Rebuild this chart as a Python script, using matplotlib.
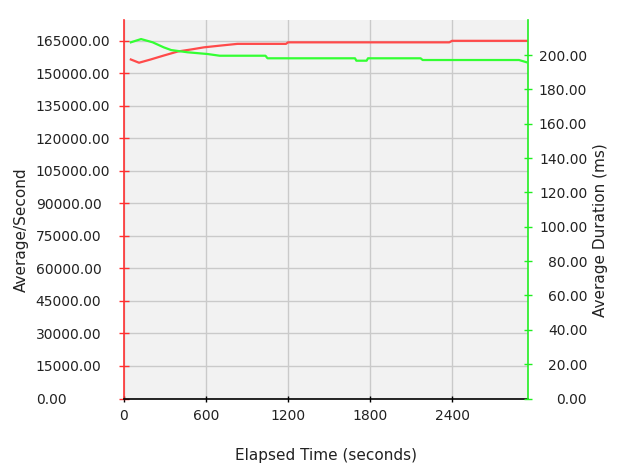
import matplotlib
matplotlib.use("Agg")
import matplotlib.pyplot as plt

# Data
rate_time = [50, 110, 195, 290, 395, 490, 585, 705, 830, 1185, 1200, 2380, 2400, 2945]
rate_values = [156300, 154800, 156300, 158100, 160000, 160900, 161900, 162700,
               163500, 163500, 164200, 164200, 164900, 164900]

dur_time = [50, 125, 210, 290, 345, 465, 610, 700, 1035, 1050, 1690, 1700,
            1775, 1785, 2170, 2185, 2890, 2945]
dur_values = [207.4, 209.3, 207.4, 204.5, 202.9, 201.6, 200.6, 199.6, 199.6,
              198.1, 198.1, 196.7, 196.7, 198.1, 198.1, 197.1, 197.1, 195.8]

x_ticks = [0, 600, 1200, 1800, 2400]
left_ticks = list(range(0, 165001, 15000))
right_ticks = list(range(0, 201, 20))

RED = "#ff4a4a"
GREEN = "#33ff33"
SPINE_RED = "#ff3030"
SPINE_GREEN = "#22ee22"
TXT = "#222222"

W, H = 625, 470
L, R, T, B = 124, 527.5, 20, 398.5

fig = plt.figure(figsize=(6.25, 4.70), dpi=100)
ax = fig.add_axes([L/W, (H-B)/H, (R-L)/W, (B-T)/H])
ax.set_facecolor("#f2f2f2")
ax2 = ax.twinx()

ax.plot(rate_time, rate_values, color=RED, lw=1.6, zorder=3)
ax2.plot(dur_time, dur_values, color=GREEN, lw=1.6, zorder=3)

ax.set_xlim(0, 2952)
ax.set_ylim(0, 174500)
ax2.set_ylim(0, 220.4)

ax.set_xticks(x_ticks)
ax.set_xticklabels([str(v) for v in x_ticks])
ax.set_yticks(left_ticks)
ax.set_yticklabels([f"{v:.2f}" for v in left_ticks])
ax2.set_yticks(right_ticks)
ax2.set_yticklabels([f"{v:.2f}" for v in right_ticks])

ax.grid(True, color="#cacaca", lw=1.0)
ax.set_axisbelow(True)

ax.tick_params(axis="x", direction="inout", length=5, width=1, color="black",
               labelsize=10, labelcolor=TXT, pad=5)
ax.tick_params(axis="y", direction="inout", length=7, width=1, color=SPINE_RED,
               labelsize=10, labelcolor=TXT, pad=60)
ax2.tick_params(axis="y", direction="inout", length=6, width=1, color=SPINE_GREEN,
                labelsize=10, labelcolor=TXT, pad=40)
for t in ax.get_yticklabels():
    t.set_horizontalalignment("left")
for t in ax2.get_yticklabels():
    t.set_horizontalalignment("right")

for a in (ax, ax2):
    a.spines["top"].set_visible(False)
ax.spines["left"].set_color(SPINE_RED)
ax.spines["left"].set_linewidth(1.2)
ax.spines["right"].set_visible(False)
ax2.spines["left"].set_visible(False)
ax2.spines["bottom"].set_visible(False)
ax2.spines["right"].set_color(SPINE_GREEN)
ax2.spines["right"].set_linewidth(1.2)
ax.spines["bottom"].set_color("black")
ax.spines["bottom"].set_linewidth(1.2)

ax.set_xlabel("Elapsed Time (seconds)", fontsize=11, color=TXT, labelpad=18)
ax.set_ylabel("Average/Second", fontsize=11, color=TXT)
ax.yaxis.set_label_coords((29 - L) / (R - L), (B - 230) / (B - T))
ax2.set_ylabel("Average Duration (ms)", fontsize=11, color=TXT)
ax2.yaxis.set_label_coords((593 - L) / (R - L), (B - 230) / (B - T))

fig.savefig("out.png", dpi=100, facecolor="white")
